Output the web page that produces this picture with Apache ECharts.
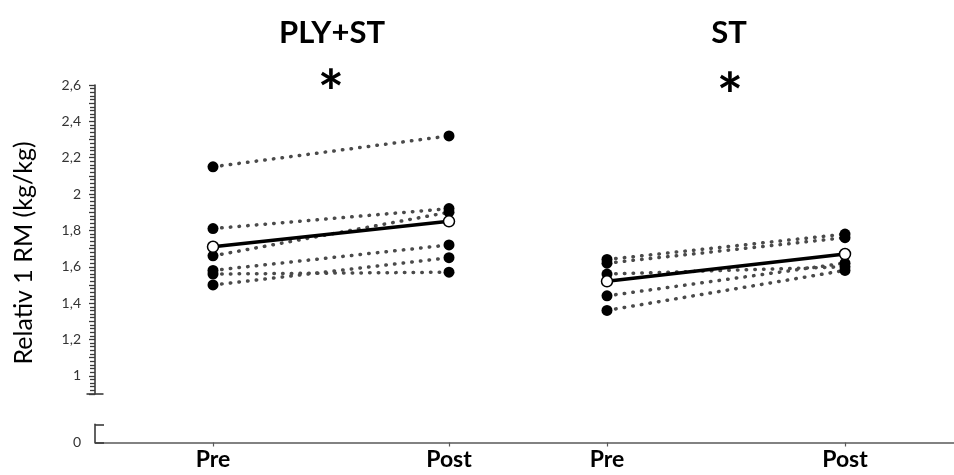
<!DOCTYPE html>
<html><head><meta charset="utf-8">
<script src="https://cdn.jsdelivr.net/npm/echarts@6/dist/echarts.min.js"></script>
<style>html,body{margin:0;padding:0;background:#fff}#c{width:954px;height:475px}</style>
</head><body><div id="c"></div>
<script>
// ---- data ----
const groups = ['PLY+ST', 'ST'];
const timepoints = ['Pre', 'Post'];
const plyPre  = [2.15, 1.81, 1.66, 1.58, 1.56, 1.50];
const plyPost = [2.32, 1.92, 1.90, 1.72, 1.57, 1.65];
const plyMean = [1.71, 1.85];
const stPre  = [1.64, 1.62, 1.56, 1.44, 1.36];
const stPost = [1.78, 1.76, 1.60, 1.62, 1.58];
const stMean = [1.52, 1.67];
const yTickValues = [1, 1.2, 1.4, 1.6, 1.8, 2, 2.2, 2.4, 2.6];
const zeroTick = [0];
const yTitle = 'Relativ 1 RM (kg/kg)';
const sigMark = '*';

// ---- layout ----
const FONT = 'Lato, "Open Sans", sans-serif';
const TOP = 85, BREAK_Y = 394, BASE = 442.5;
const Y_MAX = 2.6, Y_BREAK = 0.9;
const PPU = (BREAK_Y - TOP) / (Y_MAX - Y_BREAK);
const DATA_MIN = Y_MAX - (BASE - TOP) / PPU;
const ZERO_MAX = 0.1;
const ZERO_TOP = BASE - ZERO_MAX * PPU;
const AXIS_X = 95;
const AX = '#3a3a3a';
const fmt = v => String(Math.round(v * 10) / 10).replace('.', ',');

const chart = echarts.init(document.getElementById('c'), null, {renderer: 'canvas'});

const grids = [
  {left: AXIS_X, right: 0, top: TOP, height: BREAK_Y - TOP, outerBoundsMode: 'none', containLabel: false},
  {left: AXIS_X, right: 0, top: ZERO_TOP, height: BASE - ZERO_TOP, outerBoundsMode: 'none', containLabel: false},
  {left: 213, width: 236, top: TOP, height: BASE - TOP, outerBoundsMode: 'none', containLabel: false},
  {left: 607, width: 238, top: TOP, height: BASE - TOP, outerBoundsMode: 'none', containLabel: false}
];

const catLabel = {fontFamily: FONT, fontWeight: 'bold', fontSize: 23, color: '#000', margin: 6};
const xAxes = [
  {gridIndex: 0, type: 'value', show: false, min: 0, max: 1},
  {gridIndex: 1, type: 'value', min: 0, max: 1, axisLine: {show: true, onZero: false, lineStyle: {color: '#595959', width: 1.5}},
   axisTick: {show: false}, axisLabel: {show: false}, splitLine: {show: false}},
  {gridIndex: 2, type: 'category', data: timepoints, boundaryGap: false,
   axisLine: {show: false}, axisTick: {show: true, length: 4, lineStyle: {color: '#595959', width: 1.2}},
   axisLabel: catLabel, splitLine: {show: false}},
  {gridIndex: 3, type: 'category', data: timepoints, boundaryGap: false,
   axisLine: {show: false}, axisTick: {show: true, length: 4, lineStyle: {color: '#595959', width: 1.2}},
   axisLabel: catLabel, splitLine: {show: false}}
];

const yAxes = [
  {gridIndex: 0, type: 'value', min: Y_BREAK, max: Y_MAX, interval: 0.1,
   axisLine: {show: true, symbol: ['rect', 'none'], symbolSize: [17, 1.6], lineStyle: {color: AX, width: 1.6}},
   axisTick: {show: true, length: 6, lineStyle: {color: AX, width: 1.3}},
   minorTick: {show: true, splitNumber: 5, length: 5, lineStyle: {color: AX, width: 1.3}},
   axisLabel: {customValues: yTickValues, formatter: fmt, fontFamily: FONT, fontSize: 14, color: '#333', margin: 14},
   splitLine: {show: false}, minorSplitLine: {show: false}},
  {gridIndex: 1, type: 'value', min: 0, max: ZERO_MAX, interval: 0.1,
   axisLine: {show: true, lineStyle: {color: AX, width: 1.6}},
   axisTick: {show: true, inside: true, length: 9, lineStyle: {color: AX, width: 1.6}},
   axisLabel: {customValues: zeroTick, formatter: fmt, fontFamily: FONT, fontSize: 14, color: '#333', margin: 14},
   splitLine: {show: false}},
  {gridIndex: 2, type: 'value', min: DATA_MIN, max: Y_MAX, show: false},
  {gridIndex: 3, type: 'value', min: DATA_MIN, max: Y_MAX, show: false}
];

const dotted = {color: '#4a4a4a', width: 3.5, type: [0.5, 8.2], cap: 'round'};
const series = [];
function addGroup(pre, post, mean, idx) {
  pre.forEach((v, i) => {
    series.push({type: 'line', xAxisIndex: idx, yAxisIndex: idx, data: [v, post[i]],
      symbol: 'circle', symbolSize: 11, itemStyle: {color: '#000'}, lineStyle: dotted,
      silent: true, animation: false, z: 2});
  });
  series.push({type: 'line', xAxisIndex: idx, yAxisIndex: idx, data: mean,
    symbol: 'circle', symbolSize: 11, showAllSymbol: true,
    itemStyle: {color: '#fff', borderColor: '#000', borderWidth: 1.5},
    lineStyle: {color: '#000', width: 3.5}, silent: true, animation: false, z: 5});
}
addGroup(plyPre, plyPost, plyMean, 2);
addGroup(stPre, stPost, stMean, 3);

const graphic = [
  {type: 'text', x: 332, y: 33, style: {text: groups[0], font: 'bold 31px ' + FONT, fill: '#000', align: 'center', verticalAlign: 'middle'}},
  {type: 'text', x: 729, y: 33, style: {text: groups[1], font: 'bold 31px ' + FONT, fill: '#000', align: 'center', verticalAlign: 'middle'}},
  {type: 'text', x: 331, y: 95, style: {text: sigMark, font: 'bold 62px ' + FONT, fill: '#000', align: 'center', verticalAlign: 'middle'}},
  {type: 'text', x: 730, y: 98, style: {text: sigMark, font: 'bold 62px ' + FONT, fill: '#000', align: 'center', verticalAlign: 'middle'}},
  {type: 'text', x: 24, y: 253, rotation: Math.PI / 2, style: {text: yTitle, font: '25px ' + FONT, fill: '#000', align: 'center', verticalAlign: 'middle'}}
];

chart.setOption({
  animation: false,
  grid: grids, xAxis: xAxes, yAxis: yAxes, series: series, graphic: graphic
});
</script>
</body></html>
